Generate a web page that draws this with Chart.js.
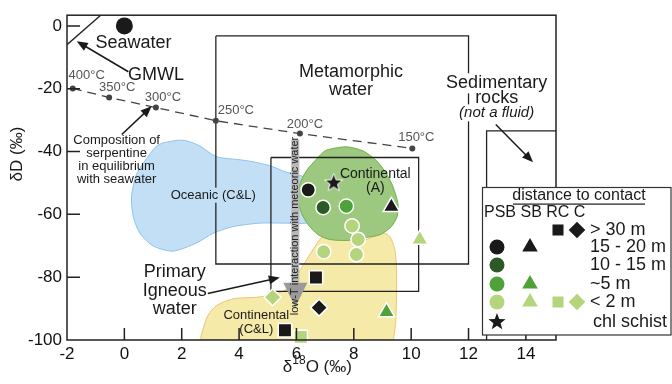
<!DOCTYPE html>
<html>
<head>
<meta charset="utf-8">
<script src="https://cdn.jsdelivr.net/npm/chart.js@4.4.1/dist/chart.umd.min.js"></script>
<style>
  html, body { margin: 0; padding: 0; background: #fff; }
</style>
</head>
<body>
<canvas id="chart" width="672" height="384"></canvas>
<script>
// values: [d18O, dD] in per mil
var seawater = [[0, 0]];
var gmwl = [[-2, -6], [-0.825, 3.4]];

var tempLabels = ['400°C', '350°C', '300°C', '250°C', '200°C', '150°C'];
var tempO = [-1.80, -0.53, 1.10, 3.19, 6.12, 10.04];
var tempD = [-19.9, -22.8, -26.0, -30.2, -34.3, -39.0];

var oceanicCL = [[1.36,-37.2],[1.88,-36.4],[2.17,-36.6],[2.63,-38.2],[3.04,-40.8],[3.33,-41.9],[4.26,-42.9],
  [5.07,-44.5],[5.66,-46.6],[6.35,-48.2],[6.88,-49.7],[6.88,-60.7],[6.35,-62.8],[5.66,-62.8],[4.72,-62.8],
  [3.79,-63.9],[3.10,-66.0],[2.52,-69.1],[1.70,-71.7],[1.01,-70.1],[0.54,-66.0],[0.31,-60.7],[0.25,-54.4],
  [0.43,-47.1],[0.89,-40.8],[1.13,-38.2],[1.36,-37.2]];
var continentalA = [[7.28,-39.0],[7.75,-38.5],[8.32,-39.8],[8.79,-42.9],[9.14,-47.1],[9.37,-51.3],[9.54,-56.6],
  [9.51,-60.7],[9.31,-63.9],[8.91,-66.5],[8.32,-67.5],[7.75,-68.3],[7.16,-68.0],[6.76,-66.5],[6.41,-63.3],
  [6.18,-59.7],[6.06,-55.5],[6.12,-50.3],[6.35,-46.1],[6.70,-42.4],[6.99,-39.8],[7.28,-39.0]];
var continentalCL = [[7.16,-67.0],[8.21,-68.6],[9.02,-66.0],[9.25,-67.0],[9.43,-71.2],[9.49,-77.5],[9.49,-85.9],
  [9.46,-94.3],[9.39,-99.5],[9.37,-100],[2.70,-100],[2.75,-96.3],[2.92,-92.1],[3.22,-89.0],[3.79,-86.9],
  [4.61,-86.4],[5.19,-85.6],[5.66,-83.8],[6.00,-79.6],[6.29,-75.4],[6.58,-71.2],[6.87,-67.5],[7.16,-67.0]];

var metamorphicBox = [[3.19,-3.2],[12,-3.2],[12,-75.8],[3.19,-75.8],[3.19,-3.2]];
var igneousBox = [[5.11,-41.9],[10.26,-41.9],[10.26,-84.5],[5.11,-84.5],[5.11,-41.9]];
var sedimentaryBox = [[15.05,-33.4],[12.63,-33.4],[12.63,-100]];

// PSB (circles)
var psb15to20 = [[6.41,-52.2]];
var psb10to15 = [[6.93,-57.8]];
var psb5 = [[7.74,-57.4]];
var psb2 = [[7.94,-63.7],[8.15,-68.0],[6.95,-71.9],[8.09,-72.8]];
// SB (triangles)
var sb15to20 = [[9.31,-57.6]];
var sb5 = [[9.14,-91.1]];
var sb2 = [[10.30,-68.0]];
// RC (squares)
var rc30 = [[6.68,-80.1],[5.60,-96.9]];
var rc2 = [[6.15,-99.0]];
// C (diamonds)
var c30 = [[6.79,-89.7]];
var c2 = [[5.17,-86.4]];
// chlorite schist
var chlSchist = [[7.30,-50.0]];

var FONT = "'Liberation Sans', Arial, sans-serif";
var BLACK = '#1a1a1a', DKGREEN = '#2b5a26', MDGREEN = '#4fa23a', LTGREEN = '#b4d57d';
var BLUE = '#c3dff6';

function xy(arr) { return arr.map(function (p) { return {x: p[0], y: p[1]}; }); }

function makeStar(r, fill, stroke) {
  var c = document.createElement('canvas');
  var s = Math.ceil(r * 2 + 4);
  c.width = s; c.height = s;
  var g = c.getContext('2d');
  g.beginPath();
  for (var i = 0; i < 10; i++) {
    var rr = i % 2 ? r * 0.42 : r;
    var a = -Math.PI / 2 + i * Math.PI / 5;
    g.lineTo(s / 2 + rr * Math.cos(a), s / 2 + rr * Math.sin(a));
  }
  g.closePath();
  g.fillStyle = fill; g.fill();
  if (stroke) { g.strokeStyle = stroke; g.lineWidth = 1; g.stroke(); }
  return c;
}
var starImg = makeStar(9.5, BLACK, '#fff');
var starLegend = makeStar(9, BLACK, null);

function region(label, pts, fillColor, lineColor, order) {
  return {label: label, data: xy(pts), showLine: true, fill: 'shape', backgroundColor: fillColor,
    borderColor: lineColor, borderWidth: 1, pointRadius: 0, tension: 0.25, order: order};
}
function outline(label, pts, order) {
  return {label: label, data: xy(pts), showLine: true, fill: false, borderColor: '#222',
    borderWidth: 1.3, pointRadius: 0, order: order};
}
function markers(label, pts, style, color, radius) {
  return {label: label, data: xy(pts), showLine: false, pointStyle: style, pointRadius: radius,
    pointBackgroundColor: color, pointBorderColor: '#fff', pointBorderWidth: 1.5, clip: false, order: 1};
}

var tempPts = tempO.map(function (v, i) { return [v, tempD[i]]; });

var datasets = [
  region('Oceanic (C&L)', oceanicCL, BLUE, '#8ec3ec', 20),
  region('Continental (C&L)', continentalCL, '#f6eaa9', '#e8c474', 19),
  region('Continental (A)', continentalA, '#9dc87f', '#6fb245', 18),
  outline('Metamorphic water', metamorphicBox, 10),
  outline('Primary igneous water', igneousBox, 10),
  outline('Sedimentary rocks', sedimentaryBox, 10),
  {label: 'GMWL', data: xy(gmwl), showLine: true, borderColor: '#222', borderWidth: 1.3, pointRadius: 0, order: 9},
  {label: 'serpentine', data: xy(tempPts), showLine: true, borderColor: '#444', borderWidth: 1.3,
    borderDash: [9, 6], pointRadius: 3, pointBackgroundColor: '#444', pointBorderWidth: 0, order: 8},
  {label: 'Seawater', data: xy(seawater), showLine: false, pointStyle: 'circle', pointRadius: 8.5,
    pointBackgroundColor: BLACK, pointBorderWidth: 0, order: 1},
  markers('PSB 15-20 m', psb15to20, 'circle', BLACK, 7.2),
  markers('PSB 10-15 m', psb10to15, 'circle', DKGREEN, 7.2),
  markers('PSB ~5 m', psb5, 'circle', MDGREEN, 7.2),
  markers('PSB <2 m', psb2, 'circle', LTGREEN, 7.2),
  markers('SB 15-20 m', sb15to20, 'triangle', BLACK, 9.5),
  markers('SB ~5 m', sb5, 'triangle', MDGREEN, 9.5),
  markers('SB <2 m', sb2, 'triangle', LTGREEN, 9.5),
  markers('RC >30 m', rc30, 'rect', BLACK, 9.5),
  markers('RC <2 m', rc2, 'rect', LTGREEN, 9.5),
  markers('C >30 m', c30, 'rectRot', BLACK, 8.5),
  markers('C <2 m', c2, 'rectRot', LTGREEN, 8.5),
  {label: 'chl schist', data: xy(chlSchist), showLine: false, pointStyle: starImg, clip: false, order: 1}
];

function text(ctx, str, x, y, o) {
  o = o || {};
  ctx.font = (o.italic ? 'italic ' : '') + (o.size || 13) + 'px ' + FONT;
  ctx.textAlign = o.align || 'center';
  ctx.textBaseline = 'middle';
  if (o.bg) {
    var w = ctx.measureText(str).width;
    var x0 = o.align === 'left' ? x : x - w / 2;
    ctx.fillStyle = o.bg;
    ctx.fillRect(x0 - 2, y - o.size / 2 - 1, w + 4, o.size + 2);
  }
  ctx.fillStyle = o.color || BLACK;
  ctx.fillText(str, x, y);
}

function arrow(ctx, x1, y1, x2, y2, color) {
  var a = Math.atan2(y2 - y1, x2 - x1), L = 11, W = 4.5;
  ctx.strokeStyle = color; ctx.fillStyle = color; ctx.lineWidth = 1.5;
  ctx.beginPath();
  ctx.moveTo(x1, y1);
  ctx.lineTo(x2 - Math.cos(a) * L * 0.8, y2 - Math.sin(a) * L * 0.8);
  ctx.stroke();
  ctx.beginPath();
  ctx.moveTo(x2, y2);
  ctx.lineTo(x2 - Math.cos(a) * L + Math.sin(a) * W, y2 - Math.sin(a) * L - Math.cos(a) * W);
  ctx.lineTo(x2 - Math.cos(a) * L - Math.sin(a) * W, y2 - Math.sin(a) * L + Math.cos(a) * W);
  ctx.closePath();
  ctx.fill();
}

var tempOffsets = [[14, -13], [8, -10], [7, -10], [20, -10], [5, -9], [4, -11]];

var annotations = {
  id: 'annotations',
  afterDatasetsDraw: function (chart) {
    var ctx = chart.ctx, sx = chart.scales.x, sy = chart.scales.y, ca = chart.chartArea;
    var X = function (v) { return sx.getPixelForValue(v); };
    var Y = function (v) { return sy.getPixelForValue(v); };
    ctx.save();

    // frame and inward ticks
    ctx.strokeStyle = '#222'; ctx.lineWidth = 1.5;
    ctx.strokeRect(ca.left, ca.top, ca.width, ca.height);
    ctx.beginPath();
    sx.ticks.forEach(function (t) {
      if (t.value <= -2) return;
      ctx.moveTo(X(t.value), ca.bottom); ctx.lineTo(X(t.value), ca.bottom - 12);
    });
    sy.ticks.forEach(function (t) {
      if (t.value <= -100) return;
      ctx.moveTo(ca.left, Y(t.value)); ctx.lineTo(ca.left + 13, Y(t.value));
    });
    ctx.stroke();

    // low-T meteoric water arrow
    var gx = X(5.96);
    ctx.fillStyle = '#b8b8b8';
    ctx.fillRect(gx - 4, Y(-36.2), 8, Y(-81.8) - Y(-36.2));
    ctx.fillStyle = '#9a9a9a';
    ctx.beginPath();
    ctx.moveTo(gx - 12, Y(-81.8)); ctx.lineTo(gx + 12, Y(-81.8)); ctx.lineTo(gx, Y(-89.6));
    ctx.closePath(); ctx.fill();
    ctx.save();
    ctx.translate(gx, Y(-63.7)); ctx.rotate(-Math.PI / 2);
    text(ctx, 'low-T interaction with meteoric water', 0, 0, {size: 11, color: '#222'});
    ctx.restore();

    // arrows
    arrow(ctx, X(0.14), Y(-14.6), X(-1.66), Y(-4.9), BLACK);
    arrow(ctx, X(-0.09), Y(-34.6), X(0.95), Y(-25.6), BLACK);
    arrow(ctx, X(12.95), Y(-31.4), X(14.25), Y(-43.4), BLACK);
    arrow(ctx, X(2.91), Y(-85.2), X(5.42), Y(-80.1), BLACK);

    // temperature labels
    tempLabels.forEach(function (s, i) {
      text(ctx, s, X(tempO[i]) + tempOffsets[i][0], Y(tempD[i]) + tempOffsets[i][1], {size: 13, color: '#555'});
    });

    text(ctx, 'Seawater', X(0.32), Y(-5.5), {size: 18});
    text(ctx, 'GMWL', X(1.10), Y(-15.7), {size: 18});
    ['Composition of', 'serpentine', 'in equilibrium', 'with seawater'].forEach(function (s, i) {
      text(ctx, s, X(-0.27), Y(-36.4) + i * 13.2, {size: 13});
    });
    text(ctx, 'Metamorphic', X(7.9), Y(-14.6), {size: 18});
    text(ctx, 'water', X(7.9), Y(-20.4), {size: 18});
    text(ctx, 'Sedimentary', X(12.98), Y(-18.3), {size: 18, bg: '#fff'});
    text(ctx, 'rocks', X(12.98), Y(-23.0), {size: 18, bg: '#fff'});
    text(ctx, '(not a fluid)', X(12.98), Y(-27.7), {size: 15, italic: true, bg: '#fff'});
    text(ctx, 'Oceanic (C&L)', X(3.10), Y(-53.9), {size: 13, bg: BLUE});
    text(ctx, 'Continental', X(8.75), Y(-47.1), {size: 14});
    text(ctx, '(A)', X(8.75), Y(-51.8), {size: 14});
    text(ctx, 'Continental', X(4.60), Y(-92.1), {size: 13});
    text(ctx, '(C&L)', X(4.60), Y(-96.5), {size: 13});
    text(ctx, 'Primary', X(1.76), Y(-78.5), {size: 18});
    text(ctx, 'Igneous', X(1.76), Y(-84.3), {size: 18});
    text(ctx, 'water', X(1.76), Y(-90.0), {size: 18});

    // axis titles
    ctx.save();
    ctx.translate(ca.left - 50, Y(-40.8)); ctx.rotate(-Math.PI / 2);
    text(ctx, 'δD (‰)', 0, 0, {size: 17});
    ctx.restore();
    var tx = X(6.73), ty = ca.bottom + 27;
    ctx.font = '17px ' + FONT;
    var w1 = ctx.measureText('δ').width, w3 = ctx.measureText('O (‰)').width;
    ctx.font = '12px ' + FONT;
    var w2 = ctx.measureText('18').width;
    var x0 = tx - (w1 + w2 + w3) / 2;
    text(ctx, 'δ', x0, ty, {size: 17, align: 'left'});
    text(ctx, '18', x0 + w1, ty - 6, {size: 12, align: 'left'});
    text(ctx, 'O (‰)', x0 + w1 + w2, ty, {size: 17, align: 'left'});

    ctx.restore();
  },
  afterDraw: function (chart) {
    var ctx = chart.ctx;
    ctx.save();
    ctx.fillStyle = '#fff';
    ctx.fillRect(482, 187, 189, 148);
    ctx.strokeStyle = '#333'; ctx.lineWidth = 1.2;
    ctx.strokeRect(482.5, 187.5, 188.5, 147.5);

    text(ctx, 'distance to contact', 579, 196, {size: 16});
    ctx.fillStyle = BLACK; ctx.fillRect(513, 203.5, 132, 1.2);
    text(ctx, 'PSB SB RC C', 484, 213, {size: 16, align: 'left'});
    var cols = {PSB: 497, SB: 530, RC: 558, C: 577};

    var rows = [
      {y: 230, t: '> 30 m', m: [['RC', 'rect', BLACK], ['C', 'rectRot', BLACK]]},
      {y: 247, t: '15 - 20 m', m: [['PSB', 'circle', BLACK], ['SB', 'triangle', BLACK]]},
      {y: 265, t: '10 - 15 m', m: [['PSB', 'circle', DKGREEN]]},
      {y: 284, t: '~5 m', m: [['PSB', 'circle', MDGREEN], ['SB', 'triangle', MDGREEN]]},
      {y: 302, t: '< 2 m', m: [['PSB', 'circle', LTGREEN], ['SB', 'triangle', LTGREEN], ['RC', 'rect', LTGREEN], ['C', 'rectRot', LTGREEN]]},
      {y: 322, t: 'chl schist', m: [['PSB', starLegend, BLACK]]}
    ];
    var radii = {circle: 7.5, triangle: 9, rect: 7.8, rectRot: 8.3};
    rows.forEach(function (r) {
      r.m.forEach(function (m) {
        ctx.fillStyle = m[2];
        var style = m[1];
        Chart.helpers.drawPoint(ctx, {pointStyle: style, radius: radii[style] || 9, rotation: 0, borderWidth: 0},
          cols[m[0]], r.y);
      });
      text(ctx, r.t, r.t === 'chl schist' ? 593 : 590, r.y, {size: 18, align: 'left'});
    });
    ctx.restore();
  }
};

new Chart(document.getElementById('chart'), {
  type: 'scatter',
  data: {datasets: datasets},
  options: {
    responsive: false,
    animation: false,
    devicePixelRatio: 1,
    layout: {padding: {top: 11, right: 116, left: 0, bottom: 0}},
    plugins: {legend: {display: false}, tooltip: {enabled: false}},
    scales: {
      x: {
        type: 'linear', min: -2, max: 15.05,
        afterFit: function (s) { s.height = 44; },
        grid: {display: false, drawTicks: false}, border: {display: false},
        ticks: {stepSize: 2, includeBounds: false, color: '#111', padding: 4, maxRotation: 0,
          font: {family: FONT, size: 17}}
      },
      y: {
        type: 'linear', min: -100, max: 3.4,
        afterFit: function (s) { s.width = 67; },
        grid: {display: false, drawTicks: false}, border: {display: false},
        ticks: {stepSize: 20, includeBounds: false, color: '#111', padding: 5,
          font: {family: FONT, size: 17}}
      }
    }
  },
  plugins: [annotations]
});
</script>
</body>
</html>
